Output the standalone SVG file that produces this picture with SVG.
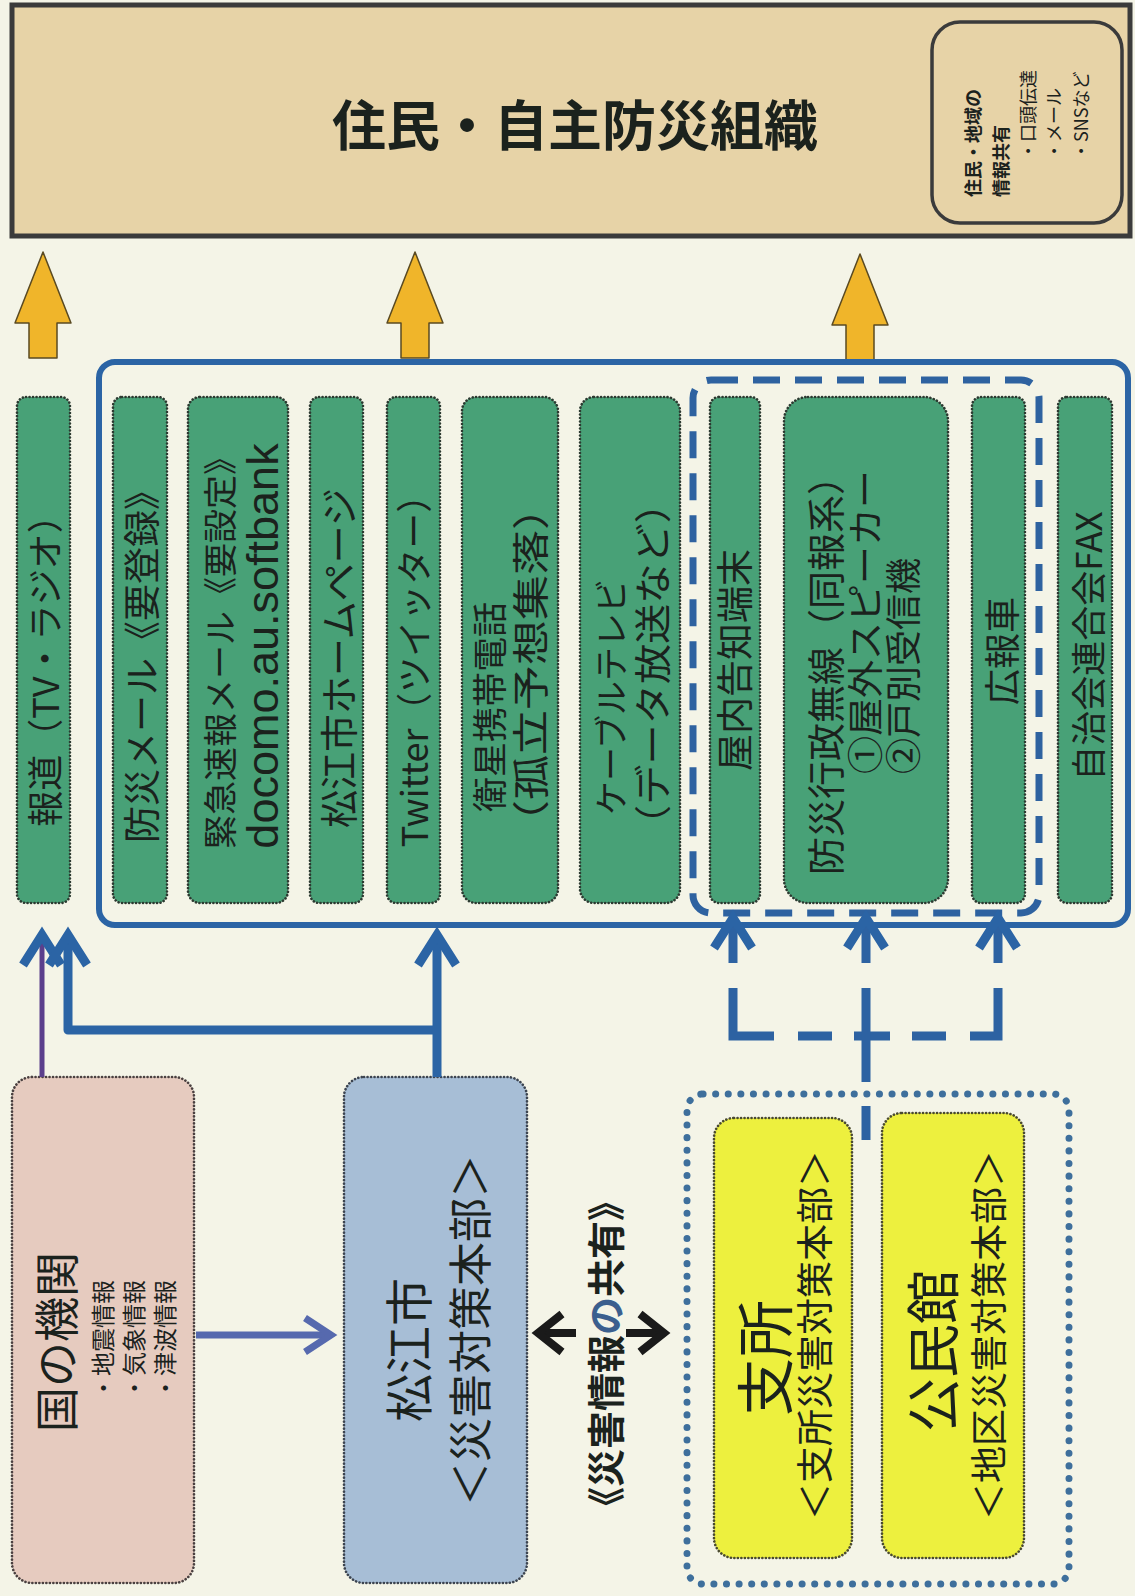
<svg xmlns="http://www.w3.org/2000/svg" width="1135" height="1596" viewBox="0 0 1135 1596">
<style>
.t{font-family:"Noto Sans CJK JP","Noto Sans CJK SC",sans-serif;fill:#1b221d}
.gbox{fill:#48a177;stroke:#2c3a31;stroke-width:2.6;stroke-dasharray:0.1 3.4;stroke-linecap:round}
.blue{fill:none;stroke:#2b64a5;stroke-width:9;stroke-linejoin:round}
.dash{fill:none;stroke:#2d62a2;stroke-width:9}
</style>
<defs>
<marker id="chev" markerUnits="userSpaceOnUse" markerWidth="80" markerHeight="80" viewBox="-40 -40 80 80" refX="0" refY="0" orient="auto" overflow="visible">
<path d="M-30,-19 L0,0 L-30,19" fill="none" stroke="#2b64a5" stroke-width="9"/>
</marker>
<marker id="chevS" markerUnits="userSpaceOnUse" markerWidth="80" markerHeight="80" viewBox="-40 -40 80 80" refX="0" refY="0" orient="auto" overflow="visible">
<path d="M-26,-17 L0,0 L-26,17" fill="none" stroke="#5669ae" stroke-width="7"/>
</marker>
<marker id="chevK" markerUnits="userSpaceOnUse" markerWidth="80" markerHeight="80" viewBox="-40 -40 80 80" refX="0" refY="0" orient="auto" overflow="visible">
<path d="M-24,-19 L0,0 L-24,19" fill="none" stroke="#1a1a1a" stroke-width="8"/>
</marker>
<path id="yarrow" d="M0,0 L28,71 L14,71 L14,106 L-14,106 L-14,71 L-28,71 Z" fill="#f0b52a" stroke="#5a4a22" stroke-width="1.5" stroke-linejoin="round"/>
</defs>
<rect width="1135" height="1596" fill="#f4f4e7"/>

<g id="residents">
<rect x="12" y="5" width="1118" height="231" fill="#e7d3a7" stroke="#3b3b3b" stroke-width="5"/>
<text class="t" x="575" y="122" text-anchor="middle" dominant-baseline="central" font-size="54" font-weight="700" fill="#111">住民・自主防災組織</text>
</g>
<g id="local-share">
<rect x="932" y="22" width="190" height="201" rx="28" fill="#e7d3a7" stroke="#3b3b3b" stroke-width="3.5"/>
<text class="t" transform="translate(972,197) rotate(-90)" dominant-baseline="central" font-size="18" font-weight="700">住民・地域の</text>
<text class="t" transform="translate(1000,197) rotate(-90)" dominant-baseline="central" font-size="18" font-weight="700">情報共有</text>
<text class="t" transform="translate(1027,160) rotate(-90)" dominant-baseline="central" font-size="18">・口頭伝達</text>
<text class="t" transform="translate(1053,160) rotate(-90)" dominant-baseline="central" font-size="18">・メール</text>
<text class="t" transform="translate(1080,160) rotate(-90)" dominant-baseline="central" font-size="18">・SNSなど</text>
</g>

<g id="yellow-arrows">
<use href="#yarrow" x="43" y="252"/>
<use href="#yarrow" x="415" y="252"/>
<use href="#yarrow" x="860" y="254"/>
</g>

<g id="media-box">
<rect x="99" y="362" width="1029" height="563" rx="16" fill="none" stroke="#2b64a5" stroke-width="6"/>
</g>
<g id="dashed-group">
<rect x="693" y="380" width="346" height="533" rx="18" fill="none" stroke="#2e62a0" stroke-width="7" stroke-dasharray="27 15"/>
</g>

<g id="n-hodo">
<rect class="gbox" x="17" y="397" width="53" height="506" rx="9"/>
<text class="t" transform="translate(43,662) rotate(-90)" text-anchor="middle" dominant-baseline="central" font-size="36">報道（TV・ラジオ）</text>
</g>
<g id="n-bousaimail">
<rect class="gbox" x="113" y="397" width="54" height="506" rx="9"/>
<text class="t" transform="translate(140,658) rotate(-90)" text-anchor="middle" dominant-baseline="central" font-size="37">防災メール《要登録》</text>
</g>
<g id="n-kinkyu">
<rect class="gbox" x="188" y="397" width="100" height="506" rx="12"/>
<text class="t" transform="translate(218,645) rotate(-90)" text-anchor="middle" dominant-baseline="central" font-size="34">緊急速報メール《要設定》</text>
<text transform="translate(278,646) rotate(-90)" text-anchor="middle" font-family="Liberation Sans, Arial, sans-serif" font-size="45" fill="#1b221d">docomo.au.softbank</text>
</g>
<g id="n-homepage">
<rect class="gbox" x="310" y="397" width="53" height="506" rx="9"/>
<text class="t" transform="translate(336,658) rotate(-90)" text-anchor="middle" dominant-baseline="central" font-size="38">松江市ホームページ</text>
</g>
<g id="n-twitter">
<rect class="gbox" x="387" y="397" width="53" height="506" rx="9"/>
<text class="t" transform="translate(412,662) rotate(-90)" text-anchor="middle" dominant-baseline="central" font-size="36">Twitter（ツイッター）</text>
</g>
<g id="n-satellite">
<rect class="gbox" x="462" y="397" width="96" height="506" rx="14"/>
<text class="t" transform="translate(487,812) rotate(-90)" dominant-baseline="central" font-size="35">衛星携帯電話</text>
<text class="t" transform="translate(529,845) rotate(-90)" dominant-baseline="central" font-size="37" textLength="360" lengthAdjust="spacingAndGlyphs">（孤立予想集落）</text>
</g>
<g id="n-catv">
<rect class="gbox" x="580" y="397" width="100" height="506" rx="14"/>
<text class="t" transform="translate(609,815) rotate(-90)" dominant-baseline="central" font-size="34">ケーブルテレビ</text>
<text class="t" transform="translate(651,845) rotate(-90)" dominant-baseline="central" font-size="37" textLength="362" lengthAdjust="spacingAndGlyphs">（データ放送など）</text>
</g>
<g id="n-indoor">
<rect class="gbox" x="710" y="397" width="50" height="506" rx="9"/>
<text class="t" transform="translate(733,660) rotate(-90)" text-anchor="middle" dominant-baseline="central" font-size="37">屋内告知端末</text>
</g>
<g id="n-musen">
<rect class="gbox" x="784" y="397" width="164" height="506" rx="24"/>
<text class="t" transform="translate(823,875) rotate(-90)" dominant-baseline="central" font-size="38">防災行政無線（同報系）</text>
<text class="t" transform="translate(863,774) rotate(-90)" dominant-baseline="central" font-size="36" textLength="304" lengthAdjust="spacingAndGlyphs">①屋外スピーカー</text>
<text class="t" transform="translate(901,774) rotate(-90)" dominant-baseline="central" font-size="36">②戸別受信機</text>
</g>
<g id="n-kohosha">
<rect class="gbox" x="972" y="397" width="53" height="506" rx="9"/>
<text class="t" transform="translate(1000,651) rotate(-90)" text-anchor="middle" dominant-baseline="central" font-size="36">広報車</text>
</g>
<g id="n-fax">
<rect class="gbox" x="1058" y="397" width="54" height="506" rx="9"/>
<text class="t" transform="translate(1086,646) rotate(-90)" text-anchor="middle" dominant-baseline="central" font-size="35">自治会連合会FAX</text>
</g>

<g id="n-kuni">
<rect x="12" y="1077" width="182" height="506" rx="20" fill="#e6cbbf" stroke="#4a4040" stroke-width="2.6" stroke-dasharray="0.1 3.4" stroke-linecap="round"/>
<text class="t" transform="translate(54,1432) rotate(-90)" dominant-baseline="central" font-size="45">国の機関</text>
<text class="t" transform="translate(101,1400) rotate(-90)" dominant-baseline="central" font-size="24">・地震情報</text>
<text class="t" transform="translate(132,1400) rotate(-90)" dominant-baseline="central" font-size="24">・気象情報</text>
<text class="t" transform="translate(163,1400) rotate(-90)" dominant-baseline="central" font-size="24">・津波情報</text>
</g>
<g id="n-matsue">
<rect x="344" y="1077" width="183" height="506" rx="20" fill="#a7bed6" stroke="#3c4450" stroke-width="2.6" stroke-dasharray="0.1 3.4" stroke-linecap="round"/>
<text class="t" transform="translate(406,1422) rotate(-90)" dominant-baseline="central" font-size="48">松江市</text>
<text class="t" transform="translate(468,1330) rotate(-90)" text-anchor="middle" dominant-baseline="central" font-size="44">＜災害対策本部＞</text>
</g>

<g id="share-label">
<text class="t" transform="translate(603,1525) rotate(-90)" dominant-baseline="central" font-size="38" font-weight="700">《災害情報<tspan fill="#3b5f8e">の</tspan>共有》</text>
</g>

<g id="branch-group">
<rect x="687" y="1094" width="382" height="490" rx="16" fill="none" stroke="#3e6f9c" stroke-width="7" stroke-dasharray="0.1 12.5" stroke-linecap="round"/>
</g>
<g id="n-shisho">
<rect x="714" y="1118" width="138" height="440" rx="20" fill="#edf03e" stroke="#4a4a30" stroke-width="2.6" stroke-dasharray="0.1 3.4" stroke-linecap="round"/>
<text class="t" transform="translate(762,1416) rotate(-90)" dominant-baseline="central" font-size="58">支所</text>
<text class="t" transform="translate(813,1335) rotate(-90)" text-anchor="middle" dominant-baseline="central" font-size="37">＜支所災害対策本部＞</text>
</g>
<g id="n-kominkan">
<rect x="882" y="1113" width="142" height="445" rx="20" fill="#edf03e" stroke="#4a4a30" stroke-width="2.6" stroke-dasharray="0.1 3.4" stroke-linecap="round"/>
<text class="t" transform="translate(930,1432) rotate(-90)" dominant-baseline="central" font-size="54">公民館</text>
<text class="t" transform="translate(987,1335) rotate(-90)" text-anchor="middle" dominant-baseline="central" font-size="37">＜地区災害対策本部＞</text>
</g>

<g id="connectors">
<path d="M42,1077 V935" fill="none" stroke="#5b3f8c" stroke-width="5" marker-end="url(#chev)"/>
<path class="blue" d="M437,1077 V935" marker-end="url(#chev)"/>
<path class="blue" d="M437,1030 H68 V935" marker-end="url(#chev)"/>
<path d="M196,1335 H331" fill="none" stroke="#5669ae" stroke-width="7" marker-end="url(#chevS)"/>
<path d="M576,1333 H538" fill="none" stroke="#1a1a1a" stroke-width="8" marker-end="url(#chevK)"/>
<path d="M626,1333 H664" fill="none" stroke="#1a1a1a" stroke-width="8" marker-end="url(#chevK)"/>
<path class="dash" d="M733,963 V918" marker-end="url(#chev)"/>
<path class="dash" d="M866,963 V918" marker-end="url(#chev)"/>
<path class="dash" d="M998,963 V918" marker-end="url(#chev)"/>
<path class="dash" d="M733,988 V1036 H774"/>
<path class="dash" d="M798,1036 H832"/>
<path class="dash" d="M854,1036 H890"/>
<path class="dash" d="M912,1036 H946"/>
<path class="dash" d="M970,1036 H998 V988"/>
<path class="dash" d="M866,988 V1082"/>
<path class="dash" d="M866,1106 V1140"/>
</g>
</svg>
